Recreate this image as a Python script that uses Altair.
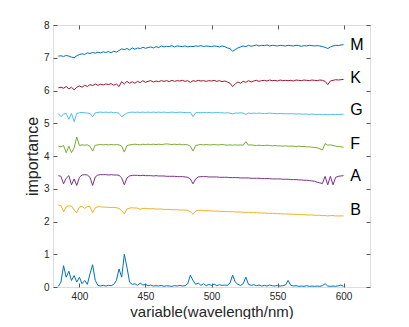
import altair as alt
import pandas as pd

wavelength = [
    384, 386, 388, 390, 392, 394, 396, 398,
    400, 402, 404, 406, 408, 410, 412, 414, 416, 418,
    420, 422, 424, 426, 428, 430, 432, 434, 436, 438,
    440, 442, 444, 446, 448, 450, 452, 454, 456, 458,
    460, 462, 464, 466, 468, 470, 472, 474, 476, 478,
    480, 482, 484, 486, 488, 490, 492, 494, 496, 498,
    500, 502, 504, 506, 508, 510, 512, 514, 516, 518,
    520, 522, 524, 526, 528, 530, 532, 534, 536, 538,
    540, 542, 544, 546, 548, 550, 552, 554, 556, 558,
    560, 562, 564, 566, 568, 570, 572, 574, 576, 578,
    580, 582, 584, 586, 588, 590, 592, 594, 596, 598, 600,
]

spec_M = [
    7.05, 7.06, 7.04, 7.07, 7.05, 7.02, 7.00, 7.06,
    7.10, 7.12, 7.10, 7.15, 7.13, 7.16, 7.14, 7.17, 7.15, 7.18,
    7.16, 7.19, 7.15, 7.20, 7.17, 7.22, 7.27, 7.25, 7.28, 7.24,
    7.30, 7.26, 7.30, 7.28, 7.32, 7.29, 7.31, 7.33, 7.30, 7.34,
    7.31, 7.36, 7.33, 7.35, 7.34, 7.37, 7.33, 7.36, 7.35, 7.34,
    7.36, 7.33, 7.35, 7.34, 7.36, 7.35, 7.37, 7.34, 7.36, 7.35,
    7.34, 7.36, 7.35, 7.33, 7.36, 7.34, 7.30, 7.28, 7.20, 7.25,
    7.30, 7.33, 7.36, 7.34, 7.38, 7.35, 7.37, 7.39, 7.36, 7.38,
    7.37, 7.39, 7.36, 7.38, 7.37, 7.36, 7.38, 7.37, 7.36, 7.38,
    7.37, 7.36, 7.38, 7.37, 7.35, 7.37, 7.36, 7.38, 7.37, 7.36,
    7.37, 7.36, 7.34, 7.32, 7.28, 7.33, 7.36, 7.38, 7.37, 7.39, 7.40,
]

spec_K = [
    6.08, 6.10, 6.07, 6.12, 6.05, 6.10, 6.02, 6.10,
    6.14, 6.10, 6.16, 6.12, 6.18, 6.15, 6.20, 6.16, 6.19, 6.17,
    6.20, 6.18, 6.21, 6.16, 6.20, 6.12, 6.27, 6.20, 6.28, 6.22,
    6.27, 6.22, 6.28, 6.24, 6.30, 6.25, 6.28, 6.30, 6.26, 6.29,
    6.27, 6.30, 6.28, 6.30, 6.27, 6.31, 6.28, 6.30, 6.29, 6.31,
    6.28, 6.30, 6.25, 6.30, 6.28, 6.31, 6.29, 6.30, 6.28, 6.30,
    6.29, 6.31, 6.28, 6.30, 6.27, 6.29, 6.26, 6.22, 6.12, 6.20,
    6.26, 6.22, 6.28, 6.25, 6.30, 6.26, 6.29, 6.31, 6.28, 6.30,
    6.31, 6.29, 6.32, 6.30, 6.31, 6.29, 6.32, 6.30, 6.31, 6.30,
    6.31, 6.29, 6.32, 6.31, 6.30, 6.32, 6.31, 6.30, 6.32, 6.31,
    6.30, 6.32, 6.31, 6.28, 6.18, 6.29, 6.31, 6.33, 6.32, 6.33, 6.34,
]

spec_G = [
    5.30, 5.20, 5.28, 5.30, 5.12, 5.30, 5.05, 5.30,
    5.32, 5.33, 5.32, 5.31, 5.30, 5.20, 5.32, 5.33, 5.34, 5.33,
    5.34, 5.33, 5.34, 5.32, 5.33, 5.30, 5.20, 5.26, 5.31, 5.33,
    5.34, 5.33, 5.34, 5.33, 5.34, 5.33, 5.34, 5.33, 5.34, 5.33,
    5.34, 5.33, 5.34, 5.33, 5.33, 5.34, 5.33, 5.33, 5.34, 5.33,
    5.33, 5.32, 5.33, 5.20, 5.32, 5.33, 5.32, 5.33, 5.32, 5.33,
    5.32, 5.32, 5.33, 5.32, 5.32, 5.31, 5.32, 5.31, 5.29, 5.31,
    5.31, 5.32, 5.31, 5.27, 5.31, 5.30, 5.31, 5.30, 5.31, 5.30,
    5.30, 5.30, 5.31, 5.30, 5.30, 5.29, 5.30, 5.29, 5.29, 5.29,
    5.29, 5.29, 5.28, 5.29, 5.28, 5.28, 5.28, 5.27, 5.28, 5.27,
    5.27, 5.27, 5.27, 5.27, 5.26, 5.27, 5.27, 5.27, 5.27, 5.27, 5.28,
]

spec_F = [
    4.30, 4.28, 4.32, 4.10, 4.30, 4.10, 4.25, 4.58,
    4.32, 4.34, 4.33, 4.34, 4.30, 4.15, 4.33, 4.34, 4.35, 4.34,
    4.35, 4.34, 4.35, 4.34, 4.35, 4.34, 4.30, 4.12, 4.32, 4.34,
    4.35, 4.36, 4.35, 4.34, 4.36, 4.35, 4.36, 4.35, 4.36, 4.35,
    4.36, 4.35, 4.36, 4.37, 4.36, 4.35, 4.36, 4.35, 4.36, 4.34,
    4.35, 4.34, 4.30, 4.15, 4.32, 4.34, 4.35, 4.34, 4.35, 4.34,
    4.34, 4.35, 4.34, 4.34, 4.35, 4.34, 4.33, 4.34, 4.33, 4.34,
    4.33, 4.34, 4.33, 4.44, 4.33, 4.34, 4.33, 4.32, 4.33, 4.32,
    4.32, 4.33, 4.32, 4.31, 4.32, 4.31, 4.31, 4.30, 4.31, 4.30,
    4.30, 4.30, 4.29, 4.30, 4.29, 4.29, 4.28, 4.28, 4.27, 4.26,
    4.25, 4.22, 4.18, 4.38, 4.33, 4.34, 4.32, 4.30, 4.29, 4.28, 4.27,
]

spec_A = [
    3.40, 3.38, 3.15, 3.32, 3.40, 3.12, 3.30, 3.10,
    3.35, 3.42, 3.43, 3.42, 3.35, 3.10, 3.36, 3.42, 3.43, 3.43,
    3.43, 3.42, 3.43, 3.42, 3.42, 3.41, 3.33, 3.12, 3.33, 3.39,
    3.41, 3.41, 3.41, 3.40, 3.41, 3.40, 3.40, 3.40, 3.39, 3.40,
    3.39, 3.39, 3.39, 3.38, 3.38, 3.38, 3.38, 3.37, 3.37, 3.37,
    3.36, 3.35, 3.30, 3.15, 3.30, 3.36, 3.37, 3.37, 3.37, 3.36,
    3.36, 3.36, 3.36, 3.35, 3.35, 3.35, 3.35, 3.34, 3.34, 3.34,
    3.34, 3.33, 3.33, 3.33, 3.33, 3.32, 3.32, 3.32, 3.32, 3.31,
    3.31, 3.31, 3.31, 3.30, 3.30, 3.30, 3.30, 3.29, 3.29, 3.29,
    3.28, 3.28, 3.28, 3.27, 3.27, 3.26, 3.26, 3.25, 3.24, 3.23,
    3.20, 3.18, 3.16, 3.38, 3.12, 3.38, 3.12, 3.35, 3.38, 3.39, 3.40,
]

spec_B = [
    2.50, 2.49, 2.30, 2.45, 2.48, 2.47, 2.35, 2.27,
    2.44, 2.46, 2.40, 2.46, 2.45, 2.27, 2.42, 2.45, 2.45, 2.44,
    2.44, 2.43, 2.43, 2.43, 2.42, 2.40, 2.33, 2.23, 2.38, 2.41,
    2.42, 2.41, 2.41, 2.37, 2.40, 2.40, 2.39, 2.39, 2.39, 2.38,
    2.38, 2.38, 2.37, 2.37, 2.37, 2.36, 2.36, 2.36, 2.35, 2.35,
    2.35, 2.34, 2.30, 2.22, 2.32, 2.34, 2.34, 2.33, 2.33, 2.33,
    2.32, 2.32, 2.32, 2.31, 2.31, 2.31, 2.30, 2.30, 2.30, 2.29,
    2.29, 2.29, 2.28, 2.28, 2.28, 2.27, 2.27, 2.27, 2.26, 2.26,
    2.26, 2.25, 2.25, 2.25, 2.24, 2.24, 2.24, 2.23, 2.23, 2.23,
    2.22, 2.22, 2.22, 2.21, 2.21, 2.21, 2.20, 2.20, 2.20, 2.19,
    2.19, 2.19, 2.18, 2.18, 2.17, 2.18, 2.18, 2.17, 2.17, 2.17, 2.17,
]

importance = [
    0.02, 0.15, 0.65, 0.30, 0.48, 0.20, 0.35, 0.15,
    0.30, 0.10, 0.20, 0.08, 0.40, 0.68, 0.20, 0.05, 0.03, 0.05,
    0.03, 0.05, 0.04, 0.08, 0.20, 0.55, 0.30, 1.00, 0.60, 0.15,
    0.08, 0.10, 0.05, 0.12, 0.06, 0.08, 0.04, 0.06, 0.03, 0.04,
    0.03, 0.05, 0.02, 0.04, 0.03, 0.02, 0.04, 0.03, 0.05, 0.03,
    0.04, 0.10, 0.36, 0.20, 0.08, 0.12, 0.05, 0.10, 0.04, 0.08,
    0.05, 0.09, 0.04, 0.07, 0.05, 0.06, 0.05, 0.12, 0.36, 0.15,
    0.08, 0.05, 0.10, 0.30, 0.08, 0.05, 0.07, 0.04, 0.06, 0.03,
    0.05, 0.03, 0.06, 0.04, 0.03, 0.05, 0.03, 0.04, 0.06, 0.20,
    0.05, 0.03, 0.04, 0.02, 0.03, 0.02, 0.04, 0.02, 0.03, 0.02,
    0.03, 0.02, 0.04, 0.10, 0.03, 0.02, 0.03, 0.02, 0.04, 0.06, 0.02,
]

series_names = ["M", "K", "G", "F", "A", "B", "importance"]
series_colors = ["#0072BD", "#A2142F", "#4DBEEE", "#77AC30", "#7E2F8E", "#EDB120", "#0072BD"]
series_values = [spec_M, spec_K, spec_G, spec_F, spec_A, spec_B, importance]

label_names = ["M", "K", "G", "F", "A", "B"]
label_x = [605, 605, 605, 605, 605, 605]
label_y = [7.39, 6.38, 5.40, 4.37, 3.40, 2.35]

x_ticks = [400, 450, 500, 550, 600]
y_ticks = [0, 1, 2, 3, 4, 5, 6, 7, 8]

rows = []
for name, vals in zip(series_names, series_values):
    for w, v in zip(wavelength, vals):
        rows.append({"wavelength": w, "value": v, "series": name})
df = pd.DataFrame(rows)
labels_df = pd.DataFrame({"x": label_x, "y": label_y, "text": label_names})

FONT = "Liberation Sans"
AX = "#262626"

x_scale = alt.Scale(domain=[380, 620], nice=False, zero=False)
y_scale = alt.Scale(domain=[0, 8], nice=False, zero=False)

lines = alt.Chart(df).mark_line(strokeWidth=1).encode(
    x=alt.X("wavelength:Q", scale=x_scale,
            axis=alt.Axis(orient="bottom", values=x_ticks, title="variable(wavelength/nm)",
                          grid=False, domain=False, offset=-4, tickSize=4,
                          tickColor="#555", labelPadding=4, labelFontSize=10,
                          labelColor=AX, labelFont=FONT, titleFont=FONT,
                          titleFontSize=15, titleFontWeight="normal", titleColor=AX,
                          titleX=158.5, titleY=28, titleBaseline="middle")),
    y=alt.Y("value:Q", scale=y_scale,
            axis=alt.Axis(orient="left", values=y_ticks, title="importance",
                          grid=False, domain=False, offset=-4, tickSize=4,
                          tickColor="#555", labelPadding=4, labelFontSize=10,
                          labelColor=AX, labelFont=FONT, titleFont=FONT,
                          titleFontSize=16, titleFontWeight="normal", titleColor=AX,
                          titleX=-25, titleY=131, titleBaseline="middle",
                          titleAlign="center", titleAngle=270)),
    color=alt.Color("series:N", scale=alt.Scale(domain=series_names, range=series_colors),
                    legend=None),
    detail="series:N",
)

texts = alt.Chart(labels_df).mark_text(
    align="left", baseline="middle", font=FONT, fontSize=16, color="#000000"
).encode(
    x=alt.X("x:Q", scale=x_scale,
            axis=alt.Axis(orient="top", values=x_ticks, labels=False, title=None,
                          grid=False, domain=False, offset=-4, tickSize=4, tickColor="#555")),
    y=alt.Y("y:Q", scale=y_scale,
            axis=alt.Axis(orient="right", values=y_ticks, labels=False, title=None,
                          grid=False, domain=False, offset=-4, tickSize=4, tickColor="#555")),
    text="text:N",
)

chart = alt.layer(lines, texts).resolve_axis(x="independent", y="independent").properties(
    width=317, height=262,
    autosize=alt.AutoSizeParams(type="none"),
    padding={"left": 45, "top": 17, "right": 31, "bottom": 32},
).configure_view(stroke="#555", strokeWidth=1).configure(background="white")

chart.save("out.html", embed_options={"renderer": "svg", "actions": False})
